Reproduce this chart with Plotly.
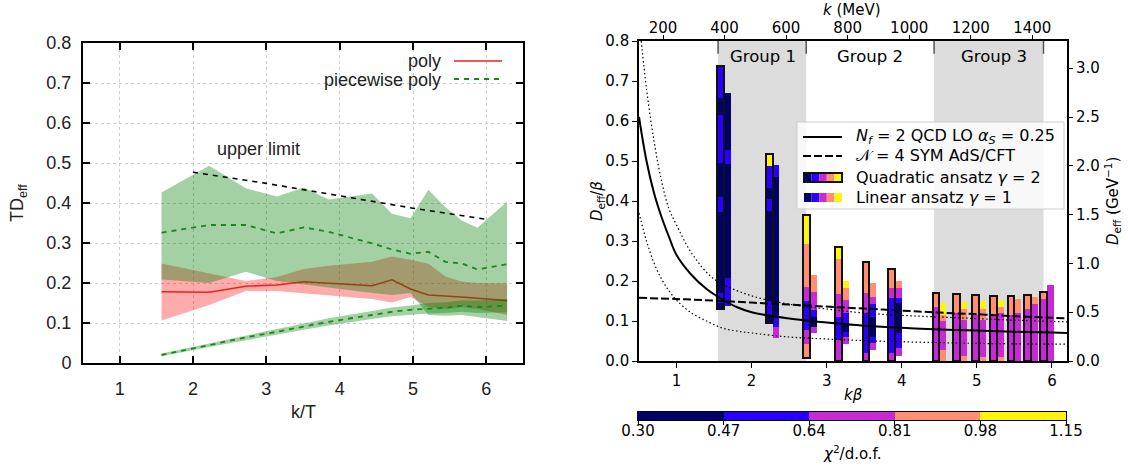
import plotly.graph_objects as go

W, H = 1128, 471

# ---------------- left panel data (k/T) ----------------
kT = [1.571, 2.221, 2.721, 3.142, 3.512, 3.848, 4.443, 4.712, 4.967, 5.210, 5.441, 5.664, 5.877, 6.283]
poly_mid = [0.178, 0.177, 0.192, 0.195, 0.203, 0.200, 0.193, 0.208, 0.185, 0.170, 0.168, 0.165, 0.162, 0.156]
poly_hi = [0.249, 0.225, 0.205, 0.215, 0.235, 0.243, 0.253, 0.266, 0.258, 0.248, 0.216, 0.204, 0.200, 0.199]
poly_lo = [0.106, 0.145, 0.180, 0.180, 0.175, 0.170, 0.160, 0.151, 0.165, 0.140, 0.135, 0.140, 0.135, 0.120]
pw_mid = [0.326, 0.345, 0.345, 0.324, 0.339, 0.328, 0.299, 0.284, 0.273, 0.278, 0.253, 0.249, 0.234, 0.247]
pw_hi = [0.426, 0.493, 0.437, 0.416, 0.439, 0.409, 0.424, 0.373, 0.362, 0.433, 0.390, 0.356, 0.338, 0.403]
pw_lo = [0.209, 0.200, 0.228, 0.205, 0.196, 0.188, 0.175, 0.170, 0.175, 0.120, 0.118, 0.120, 0.115, 0.105]
low_mid = [0.020, 0.045, 0.064, 0.078, 0.091, 0.103, 0.120, 0.128, 0.133, 0.135, 0.138, 0.143, 0.140, 0.143]
low_hi = [0.024, 0.050, 0.070, 0.085, 0.099, 0.112, 0.130, 0.139, 0.144, 0.150, 0.152, 0.156, 0.156, 0.160]
low_lo = [0.017, 0.040, 0.058, 0.071, 0.083, 0.094, 0.110, 0.117, 0.121, 0.124, 0.125, 0.128, 0.125, 0.127]
ul_x = [2.0, 3.0, 4.0, 5.0, 6.0]
ul_y = [0.477, 0.449, 0.418, 0.387, 0.359]

# ---------------- right panel data (k beta) ----------------
T_MEV = 244.0
curve_k = [0.5, 0.6, 0.7, 0.8, 0.9, 1.0, 1.2, 1.4, 1.6, 1.8, 2.0, 2.5, 3.0, 3.5, 4.0, 4.5, 5.0, 5.5, 6.0, 6.2]
qcd = [0.61, 0.50, 0.42, 0.36, 0.31, 0.265, 0.215, 0.18, 0.155, 0.135, 0.122, 0.106, 0.096, 0.088, 0.083, 0.079, 0.076, 0.073, 0.071, 0.070]
qcd_hi_k = [0.53, 0.6, 0.7, 0.8, 0.9, 1.0, 1.2, 1.5, 2.0, 2.5, 3.0, 3.5, 4.0, 4.5, 5.0, 5.5, 6.0, 6.2]
qcd_hi = [0.80, 0.68, 0.55, 0.45, 0.38, 0.34, 0.27, 0.205, 0.163, 0.142, 0.130, 0.120, 0.114, 0.110, 0.106, 0.102, 0.099, 0.098]
qcd_lo = [0.37, 0.30, 0.245, 0.205, 0.175, 0.152, 0.12, 0.10, 0.083, 0.075, 0.07, 0.06, 0.055, 0.051, 0.048, 0.046, 0.044, 0.043, 0.042, 0.042]
ads_k = [0.5, 1.0, 1.5, 2.0, 2.5, 3.0, 3.5, 4.0, 4.5, 5.0, 5.5, 6.0, 6.2]
ads = [0.158, 0.155, 0.151, 0.146, 0.141, 0.136, 0.131, 0.126, 0.121, 0.117, 0.112, 0.108, 0.107]

kb = [1.571, 2.221, 2.721, 3.142, 3.512, 3.848, 4.443, 4.712, 4.967, 5.210, 5.441, 5.664, 5.877]
quad_edges = [
    [0.7375, 0.657, 0.615, 0.494, 0.41, 0.372, 0.169, 0.144, 0.129],
    [0.5175, 0.4875, 0.432, 0.404, 0.375, 0.15, 0.115, 0.094],
    [0.365, 0.2925, 0.186, 0.15, 0.0775, 0.042, 0.008],
    [0.284, 0.255, 0.1675, 0.109, 0.0525, 0.0],
    [0.247, 0.169, 0.119, 0.021, 0.0],
    [0.229, 0.182, 0.157, 0.019, 0.0],
    [0.171, 0.136, 0.0],
    [0.167, 0.119, 0.0],
    [0.164, 0.115, 0.0],
    [0.162, 0.115, 0.0],
    [0.1625, 0.115, 0.0],
    [0.166, 0.129, 0.0],
    [0.173, 0.155, 0.0],
]
quad_bins = [
    [1, 0, 1, 0, 1, 0, 1, 0],
    [4, 1, 0, 1, 0, 1, 0],
    [4, 3, 2, 1, 2, 3],
    [4, 3, 2, 1, 2],
    [3, 2, 1, 2],
    [3, 2, 1, 2],
    [3, 2], [3, 2], [3, 2], [3, 2], [3, 2], [3, 2], [3, 2],
]
lin_edges = [
    [0.669, 0.527, 0.492, 0.208, 0.138],
    [0.49, 0.461, 0.115, 0.086, 0.058],
    [0.215, 0.172, 0.1275, 0.111, 0.086, 0.071],
    [0.2, 0.182, 0.1525, 0.119, 0.096, 0.073, 0.059, 0.0425],
    [0.194, 0.161, 0.142, 0.111, 0.061, 0.044, 0.0275],
    [0.2, 0.182, 0.157, 0.144, 0.069, 0.032, 0.0125],
    [0.146, 0.115, 0.1, 0.0275, 0.0],
    [0.148, 0.131, 0.1025, 0.0125, 0.0],
    [0.15, 0.131, 0.1025, 0.011, 0.0],
    [0.1525, 0.134, 0.119, 0.011, 0.0],
    [0.155, 0.119, 0.0],
    [0.161, 0.1425, 0.0],
    [0.19, 0.0],
]
lin_bins = [
    [0, 1, 0, 1],
    [1, 0, 1, 2],
    [3, 2, 1, 0, 2],
    [4, 3, 2, 1, 0, 1, 2],
    [3, 2, 1, 0, 1, 2],
    [3, 2, 1, 0, 1, 2],
    [4, 3, 2, 3], [4, 3, 2, 3], [4, 3, 2, 3], [4, 3, 2, 3],
    [3, 2], [3, 2], [2],
]
chi_edges = [0.30, 0.47, 0.64, 0.81, 0.98, 1.15]
CMAP = ['#000066', '#2800ff', '#c729d6', '#ff8f70', '#fff50a']
groups = [(1.553, 2.727, 'Group 1'), (2.727, 4.43, 'Group 2'), (4.43, 5.887, 'Group 3')]

def px(x):
    return x / W

def py(y):
    return 1 - y / H

LF = 'Liberation Sans'
RF = 'DejaVu Sans'

fig = go.Figure()

# ---------- left panel ----------
fig.add_trace(go.Scatter(x=kT + kT[::-1], y=poly_hi + poly_lo[::-1], fill='toself',
                         fillcolor='rgba(255,0,0,0.33)', line=dict(width=0), mode='lines'))
fig.add_trace(go.Scatter(x=kT, y=poly_mid, mode='lines', line=dict(color='#ee2020', width=1.6)))
fig.add_trace(go.Scatter(x=kT + kT[::-1], y=pw_hi + pw_lo[::-1], fill='toself',
                         fillcolor='rgba(0,128,0,0.36)', line=dict(width=0), mode='lines'))
fig.add_trace(go.Scatter(x=kT, y=pw_mid, mode='lines', line=dict(color='#168a16', width=1.8, dash='5px,5px')))
fig.add_trace(go.Scatter(x=kT + kT[::-1], y=low_hi + low_lo[::-1], fill='toself',
                         fillcolor='rgba(0,128,0,0.36)', line=dict(width=0), mode='lines'))
fig.add_trace(go.Scatter(x=kT, y=low_mid, mode='lines', line=dict(color='#168a16', width=1.8, dash='5px,5px')))
fig.add_trace(go.Scatter(x=ul_x, y=ul_y, mode='lines', line=dict(color='black', width=1.6, dash='5px,5px')))

# ---------- right panel ----------
Q_OFF, L_OFF, BW = 0.012, 0.105, 0.09
segs = {i: dict(x=[], base=[], h=[]) for i in range(5)}
for off, E, B in ((Q_OFF, quad_edges, quad_bins), (L_OFF, lin_edges, lin_bins)):
    for k, edges, bins in zip(kb, E, B):
        for j, b in enumerate(bins):
            segs[b]['x'].append(k + off)
            segs[b]['base'].append(edges[j + 1])
            segs[b]['h'].append(edges[j] - edges[j + 1])
for i in range(5):
    s = segs[i]
    fig.add_trace(go.Bar(x=s['x'], y=s['h'], base=s['base'], width=BW,
                         marker=dict(color=CMAP[i], line=dict(width=0)),
                         xaxis='x2', yaxis='y2'))
fig.add_trace(go.Bar(x=[k + Q_OFF for k in kb], y=[e[0] - e[-1] for e in quad_edges],
                     base=[e[-1] for e in quad_edges], width=BW,
                     marker=dict(color='rgba(0,0,0,0)', line=dict(color='#111', width=2)),
                     xaxis='x2', yaxis='y2'))

fig.add_trace(go.Scatter(x=qcd_hi_k, y=qcd_hi, mode='lines', line=dict(color='black', width=1.2, dash='1.5px,2.5px', shape='spline'), xaxis='x2', yaxis='y2'))
fig.add_trace(go.Scatter(x=curve_k, y=qcd_lo, mode='lines', line=dict(color='black', width=1.2, dash='1.5px,2.5px', shape='spline'), xaxis='x2', yaxis='y2'))
fig.add_trace(go.Scatter(x=ads_k, y=ads, mode='lines', line=dict(color='black', width=2, dash='8px,3px', shape='spline'), xaxis='x2', yaxis='y2'))
fig.add_trace(go.Scatter(x=curve_k, y=qcd, mode='lines', line=dict(color='black', width=2, shape='spline'), xaxis='x2', yaxis='y2'))
# invisible traces to activate secondary axes
fig.add_trace(go.Scatter(x=[T_MEV], y=[0], mode='markers', marker=dict(opacity=0), xaxis='x3', yaxis='y2'))
fig.add_trace(go.Scatter(x=[1], y=[0], mode='markers', marker=dict(opacity=0), xaxis='x2', yaxis='y3'))

# ---------- colour bar ----------
fig.add_trace(go.Bar(x=[(chi_edges[i] + chi_edges[i + 1]) / 2 for i in range(5)], y=[1] * 5,
                     width=[chi_edges[i + 1] - chi_edges[i] for i in range(5)],
                     marker=dict(color=CMAP, line=dict(width=0)), xaxis='x4', yaxis='y4'))

fig.update_traces(showlegend=False, hoverinfo='skip')

left_tick = dict(family=LF, size=18, color='#222')
right_tick = dict(family=RF, size=15, color='black')

fig.update_layout(
    width=W, height=H, margin=dict(l=0, r=0, t=0, b=0),
    paper_bgcolor='white', plot_bgcolor='white', barmode='overlay', bargap=0,
    xaxis=dict(domain=[px(83), px(523)], range=[0.5, 6.5], tickvals=[1, 2, 3, 4, 5, 6], anchor='y',
               ticks='inside', ticklen=7, tickwidth=1.5, tickcolor='black', mirror='ticks',
               showline=True, linewidth=2, linecolor='black', showgrid=True, gridcolor='#cccccc',
               griddash='dot', gridwidth=1, zeroline=False, tickfont=left_tick, ticklabelstandoff=8),
    yaxis=dict(domain=[py(363), py(43)], range=[0, 0.8], anchor='x',
               tickvals=[0, 0.1, 0.2, 0.3, 0.4, 0.5, 0.6, 0.7, 0.8],
               ticktext=['0', '0.1', '0.2', '0.3', '0.4', '0.5', '0.6', '0.7', '0.8'],
               ticks='inside', ticklen=7, tickwidth=1.5, tickcolor='black', mirror='ticks',
               showline=True, linewidth=2, linecolor='black', showgrid=True, gridcolor='#cccccc',
               griddash='dot', gridwidth=1, zeroline=False, tickfont=left_tick, ticklabelstandoff=6),
    xaxis2=dict(domain=[px(639), px(1067)], range=[0.5, 6.2], anchor='y2', tickvals=[1, 2, 3, 4, 5, 6],
                ticks='outside', ticklen=5, tickwidth=1.2, tickcolor='black', showline=True,
                linewidth=1.6, linecolor='black', mirror=True, showgrid=False, zeroline=False,
                tickfont=right_tick),
    yaxis2=dict(domain=[py(361), py(41)], range=[0, 0.8], anchor='x2', dtick=0.1, tickformat='.1f',
                ticks='outside', ticklen=5, tickwidth=1.2, tickcolor='black', showline=True,
                linewidth=1.6, linecolor='black', mirror=True, showgrid=False, zeroline=False,
                tickfont=right_tick),
    xaxis3=dict(overlaying='x2', side='top', anchor='y2', range=[0.5 * T_MEV, 6.2 * T_MEV],
                tickvals=[200, 400, 600, 800, 1000, 1200, 1400], ticks='outside', ticklen=5,
                tickwidth=1.2, tickcolor='black', showline=False, showgrid=False, zeroline=False,
                tickfont=right_tick, ticklabelstandoff=-4),
    yaxis3=dict(overlaying='y2', side='right', anchor='x2', range=[0, 0.8 / (T_MEV / 1000)],
                tickvals=[0, 0.5, 1.0, 1.5, 2.0, 2.5, 3.0], tickformat='.1f', ticks='outside', ticklen=5,
                tickwidth=1.2, tickcolor='black', showline=False, showgrid=False, zeroline=False,
                tickfont=right_tick),
    xaxis4=dict(domain=[px(638), px(1066)], range=[0.30, 1.15], anchor='y4', tickvals=chi_edges,
                ticktext=['%.2f' % v for v in chi_edges], ticks='outside', ticklen=4, tickwidth=1,
                tickcolor='black', showline=True, linewidth=1, linecolor='black', mirror=True,
                showgrid=False, zeroline=False, tickfont=right_tick, ticklabelstandoff=-7),
    yaxis4=dict(domain=[py(420), py(412)], range=[0, 1], anchor='x4', showticklabels=False, ticks='',
                showline=True, linewidth=1, linecolor='black', mirror=True, showgrid=False, zeroline=False),
)
for ax in ['xaxis', 'yaxis', 'xaxis2', 'yaxis2', 'xaxis3', 'yaxis3', 'xaxis4', 'yaxis4']:
    fig.layout[ax].automargin = False

shapes = []
# left legend box and samples
shapes.append(dict(type='rect', xref='paper', yref='paper', x0=px(300), x1=px(521), y0=py(88), y1=py(46),
                   fillcolor='white', line=dict(width=0), layer='between'))
shapes.append(dict(type='line', xref='paper', yref='paper', x0=px(454), x1=px(502), y0=py(61), y1=py(61),
                   line=dict(color='#ee2020', width=1.6)))
shapes.append(dict(type='line', xref='paper', yref='paper', x0=px(454), x1=px(502), y0=py(79), y1=py(79),
                   line=dict(color='#168a16', width=1.8, dash='5px,5px')))
# group bands and top boundary ticks
for (a, b, name) in groups:
    if name != 'Group 2':
        shapes.append(dict(type='rect', xref='x2', yref='y2', x0=a, x1=b, y0=0, y1=0.8,
                           fillcolor='#dcdcdc', line=dict(width=0), layer='below'))
for xb in [1.553, 2.727, 4.43, 5.887]:
    shapes.append(dict(type='line', xref='x2', yref='y2', x0=xb, x1=xb, y0=0.8, y1=0.768,
                       line=dict(color='#555', width=1.5)))
# right legend
shapes.append(dict(type='rect', xref='paper', yref='paper', x0=px(797), x1=px(1064), y0=py(209), y1=py(122),
                   fillcolor='rgba(255,255,255,0.8)', line=dict(color='#cccccc', width=1), layer='above'))
shapes.append(dict(type='line', xref='paper', yref='paper', x0=px(803), x1=px(842), y0=py(137), y1=py(137),
                   line=dict(color='black', width=2), layer='above'))
shapes.append(dict(type='line', xref='paper', yref='paper', x0=px(803), x1=px(842), y0=py(156), y1=py(156),
                   line=dict(color='black', width=2, dash='8px,3px'), layer='above'))
for row_y0, row_y1, outline in ((173, 182, True), (193, 202, False)):
    for i in range(5):
        shapes.append(dict(type='rect', xref='paper', yref='paper', x0=px(804 + 7.6 * i), x1=px(804 + 7.6 * (i + 1)),
                           y0=py(row_y1), y1=py(row_y0), fillcolor=CMAP[i], line=dict(width=0), layer='above'))
    if outline:
        shapes.append(dict(type='rect', xref='paper', yref='paper', x0=px(804), x1=px(842),
                           y0=py(row_y1), y1=py(row_y0), fillcolor='rgba(0,0,0,0)',
                           line=dict(color='#111', width=2), layer='above'))
fig.update_layout(shapes=shapes)

ann = []
lf = dict(family=LF, size=18, color='#222')
rf = dict(family=RF, size=15, color='black')
lg = dict(family=RF, size=16, color='black')
ann.append(dict(x=px(18), y=py(203), text='TD<sub>eff</sub>', textangle=-90, font=lf))
ann.append(dict(x=px(303), y=py(412), text='k/T', font=lf))
ann.append(dict(x=px(258), y=py(149), text='upper limit', font=lf))
ann.append(dict(x=px(443), y=py(61), text='poly', font=lf, xanchor='right'))
ann.append(dict(x=px(443), y=py(80), text='piecewise poly', font=lf, xanchor='right'))
ann.append(dict(x=px(597), y=py(201), text='<i>D</i><sub>eff</sub>/<i>β</i>', textangle=-90, font=rf))
ann.append(dict(x=px(1112), y=py(201), text='<i>D</i><sub>eff</sub> (GeV<sup>−1</sup>)', textangle=-90, font=rf))
ann.append(dict(x=px(852), y=py(10), text='<i>k</i> (MeV)', font=rf))
ann.append(dict(x=px(853), y=py(395), text='<i>kβ</i>', font=rf))
ann.append(dict(x=px(852), y=py(453), text='<i>χ</i><sup>2</sup>/d.o.f.', font=rf))
for xc, name in ((763, 'Group 1'), (870, 'Group 2'), (994, 'Group 3')):
    ann.append(dict(x=px(xc), y=py(57), text=name, font=dict(family=RF, size=16.5, color='black')))
leg_txt = ['<i>N</i><sub><i>f</i></sub> = 2 QCD LO <i>α</i><sub><i>S</i></sub> = 0.25',
           '𝒩 = 4 SYM AdS/CFT',
           'Quadratic ansatz <i>γ</i> = 2',
           'Linear ansatz <i>γ</i> = 1']
for t, yy in zip(leg_txt, (137, 156, 177, 197)):
    ann.append(dict(x=px(854), y=py(yy), text=t, font=lg, xanchor='left'))
for a in ann:
    a.update(xref='paper', yref='paper', showarrow=False)
    a.setdefault('xanchor', 'center')
    a.setdefault('yanchor', 'middle')
fig.update_layout(annotations=ann)

fig.write_html('out.html', config={'displayModeBar': False},
               post_script="document.body.style.margin='0';document.body.style.padding='0';")
